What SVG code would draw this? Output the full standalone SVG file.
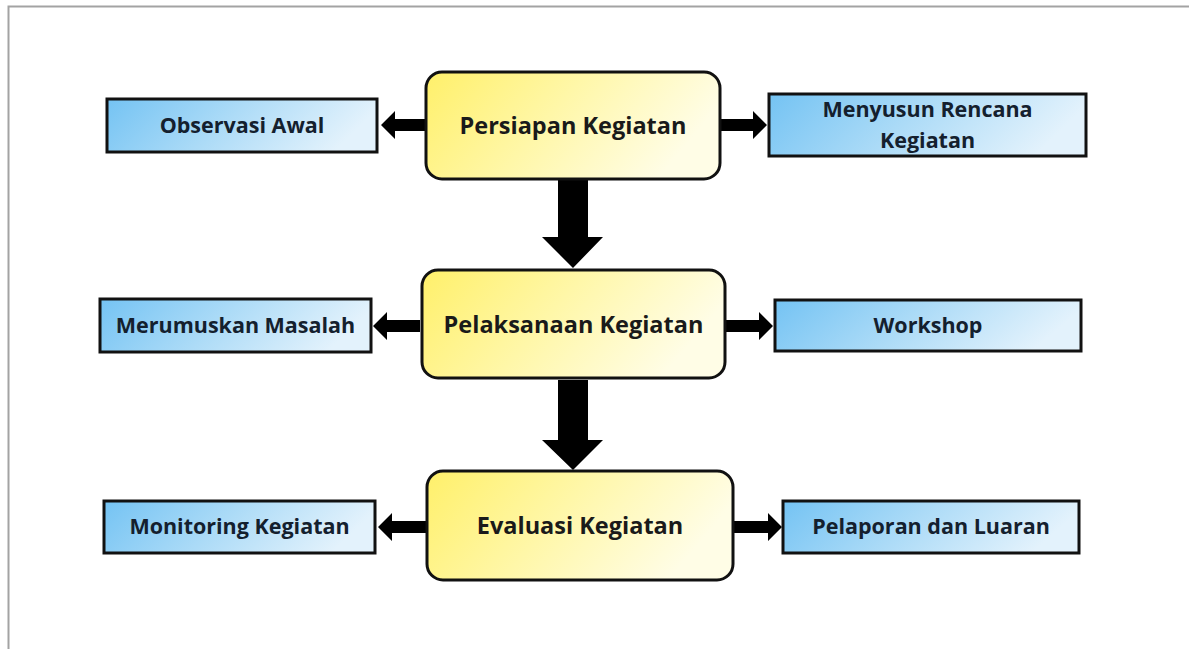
<svg xmlns="http://www.w3.org/2000/svg" width="1189" height="649" viewBox="0 0 1189 649">
<defs>
<linearGradient id="gBlue" x1="0" y1="0" x2="1" y2="0.2">
<stop offset="0" stop-color="#74c3f3"/>
<stop offset="0.5" stop-color="#acdbf7"/>
<stop offset="1" stop-color="#e3f2fc"/>
</linearGradient>
<linearGradient id="gYellow" x1="0" y1="0" x2="1" y2="0.3">
<stop offset="0" stop-color="#fff06a"/>
<stop offset="0.5" stop-color="#fff7a8"/>
<stop offset="1" stop-color="#fffde6"/>
</linearGradient>
<style>
.side{fill:url(#gBlue);stroke:#111;stroke-width:3}
.main{fill:url(#gYellow);stroke:#111;stroke-width:3}
.ts{font-family:"Open Sans","Liberation Sans",sans-serif;font-weight:700;font-size:21.5px;fill:#14202e;text-anchor:middle}
.tm{font-family:"Open Sans","Liberation Sans",sans-serif;font-weight:700;font-size:23.5px;fill:#1a1a1a;text-anchor:middle}
.arr{fill:#000}
</style>
</defs>
<rect width="1189" height="649" fill="#ffffff"/>
<path d="M8.5 649 V6.5 H1189" fill="none" stroke="#a3a3a3" stroke-width="2"/>

<g id="connectors">
<polygon class="arr" points="426,119 395,119 395,111 381,125 395,139 395,131 426,131"/>
<polygon class="arr" points="720,119 753,119 753,111 767,125 753,139 753,131 720,131"/>
<polygon class="arr" points="420,320 387,320 387,312 373,326 387,340 387,332 420,332"/>
<polygon class="arr" points="725,320 759,320 759,312 773,326 759,340 759,332 725,332"/>
<polygon class="arr" points="427,521 392,521 392,513 378,527 392,541 392,533 427,533"/>
<polygon class="arr" points="733,521 768,521 768,513 782,527 768,541 768,533 733,533"/>
<polygon class="arr" points="558,179 588,179 588,237 603,237 573,268 542,237 558,237"/>
<polygon class="arr" points="558,380 588,380 588,440 603,440 573,470 542,440 558,440"/>
</g>

<g id="persiapan">
<rect class="main" x="426" y="72" width="294" height="107" rx="16"/>
<text class="tm" x="573" y="134">Persiapan Kegiatan</text>
</g>
<g id="pelaksanaan">
<rect class="main" x="422" y="270" width="303" height="108" rx="16"/>
<text class="tm" x="573.5" y="333">Pelaksanaan Kegiatan</text>
</g>
<g id="evaluasi">
<rect class="main" x="427" y="471" width="306" height="109" rx="16"/>
<text class="tm" x="580" y="534">Evaluasi Kegiatan</text>
</g>

<g id="observasi">
<rect class="side" x="107" y="99" width="270" height="53"/>
<text class="ts" x="242" y="133">Observasi Awal</text>
</g>
<g id="menyusun">
<rect class="side" x="769" y="94" width="317" height="62"/>
<text class="ts" x="927.5" y="117">Menyusun Rencana</text>
<text class="ts" x="927.5" y="148">Kegiatan</text>
</g>
<g id="merumuskan">
<rect class="side" x="100" y="299" width="271" height="53"/>
<text class="ts" x="235.5" y="333">Merumuskan Masalah</text>
</g>
<g id="workshop">
<rect class="side" x="775" y="300" width="306" height="51"/>
<text class="ts" x="928" y="333">Workshop</text>
</g>
<g id="monitoring">
<rect class="side" x="104" y="501" width="271" height="52"/>
<text class="ts" x="239.5" y="534">Monitoring Kegiatan</text>
</g>
<g id="pelaporan">
<rect class="side" x="783" y="501" width="296" height="52"/>
<text class="ts" x="931" y="534">Pelaporan dan Luaran</text>
</g>
</svg>
